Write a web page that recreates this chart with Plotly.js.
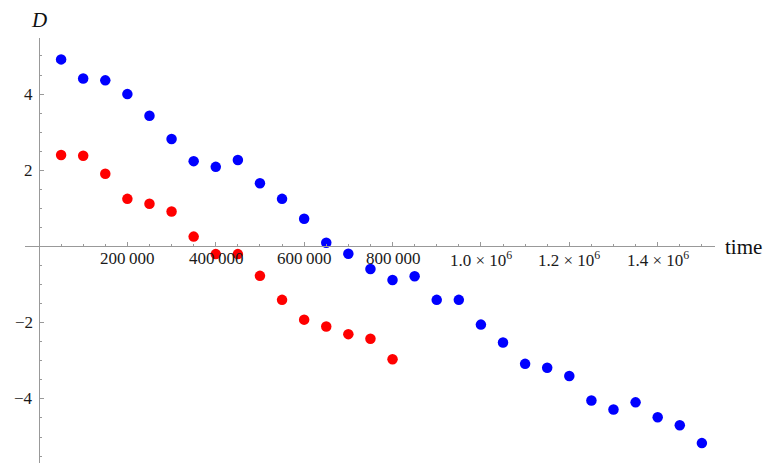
<!DOCTYPE html>
<html>
<head>
<meta charset="utf-8">
<script src="https://cdn.plot.ly/plotly-3.0.1.min.js"></script>
<style>html,body{margin:0;padding:0;background:#fff;}#chart{width:773px;height:466px;}</style>
</head>
<body>
<div id="chart"></div>
<script>
var blueTime = [50000,100000,150000,200000,250000,300000,350000,400000,450000,500000,550000,600000,650000,700000,750000,800000,850000,900000,950000,1000000,1050000,1100000,1150000,1200000,1250000,1300000,1350000,1400000,1450000,1500000];
var blueD = [4.91,4.41,4.36,4.00,3.43,2.82,2.24,2.09,2.27,1.66,1.25,0.73,0.10,-0.19,-0.59,-0.88,-0.78,-1.40,-1.40,-2.05,-2.52,-3.08,-3.18,-3.40,-4.04,-4.28,-4.09,-4.48,-4.69,-5.16];
var redTime = [50000,100000,150000,200000,250000,300000,350000,400000,450000,500000,550000,600000,650000,700000,750000,800000];
var redD = [2.40,2.38,1.91,1.25,1.12,0.92,0.26,-0.20,-0.20,-0.77,-1.40,-1.92,-2.10,-2.30,-2.42,-2.96];

var xTickVals = [200000,400000,600000,800000,1000000,1200000,1400000];
var xTickText = ["200\u2009000","400\u2009000","600\u2009000","800\u2009000","1.0 \u00d7 10<sup>6</sup>","1.2 \u00d7 10<sup>6</sup>","1.4 \u00d7 10<sup>6</sup>"];
var yTickVals = [-4,-2,2,4];
var yTickText = ["\u22124","\u22122","2","4"];

var xRange = [-31680, 1529700];
var yRange = [-5.682, 5.472];

var serifFam = "Liberation Serif";
var xPos = (0 - yRange[0]) / (yRange[1] - yRange[0]);
var yPos = (0 - xRange[0]) / (xRange[1] - xRange[0]);

var traces = [
  {x: blueTime, y: blueD, type: 'scatter', mode: 'markers', marker: {color: '#0000ff', size: 10.5}, hoverinfo: 'none'},
  {x: redTime, y: redD, type: 'scatter', mode: 'markers', marker: {color: '#ff0000', size: 10.5}, hoverinfo: 'none'},
  {x: [], y: [], xaxis: 'x2', yaxis: 'y2', type: 'scatter', mode: 'markers', hoverinfo: 'none'}
];

var annotations = [
  {text: 'time', xref: 'paper', yref: 'y', x: 1, y: 0, xanchor: 'left', yanchor: 'middle', xshift: 8, showarrow: false, font: {family: serifFam, size: 21, color: '#111'}},
  {text: '<i>D</i>', xref: 'x', yref: 'paper', x: 0, y: 1, xanchor: 'center', yanchor: 'bottom', yshift: 4, showarrow: false, font: {family: serifFam, size: 21, color: '#111'}}
];
xTickVals.forEach(function (v, i) {
  annotations.push({text: xTickText[i], xref: 'x', yref: 'y', x: v, y: 0, xanchor: 'center', yanchor: 'middle', yshift: -12, showarrow: false, font: {family: serifFam, size: 17, color: '#1a1a1a'}});
});
yTickVals.forEach(function (v, i) {
  annotations.push({text: yTickText[i], xref: 'x', yref: 'y', x: 0, y: v, xanchor: 'right', yanchor: 'middle', xshift: -4, showarrow: false, font: {family: serifFam, size: 17, color: '#1a1a1a'}});
});

var layout = {
  width: 773, height: 466,
  margin: {l: 25, r: 58, t: 38, b: 3},
  paper_bgcolor: '#ffffff', plot_bgcolor: '#ffffff',
  showlegend: false,
  xaxis: {
    range: xRange, anchor: 'free', position: xPos,
    showgrid: false, zeroline: false,
    showline: true, linecolor: '#999', linewidth: 1,
    tickmode: 'array', tickvals: xTickVals, showticklabels: false,
    ticks: 'inside', ticklen: 4.5, tickcolor: '#999',
    automargin: false, fixedrange: true
  },
  yaxis: {
    range: yRange, anchor: 'free', position: yPos,
    showgrid: false, zeroline: false,
    showline: true, linecolor: '#999', linewidth: 1,
    tickmode: 'array', tickvals: yTickVals, showticklabels: false,
    ticks: 'inside', ticklen: 4.5, tickcolor: '#999',
    automargin: false, fixedrange: true
  },
  xaxis2: {
    range: xRange, overlaying: 'x', anchor: 'free', position: xPos,
    showgrid: false, zeroline: false, showline: false, showticklabels: false,
    tickmode: 'linear', tick0: 0, dtick: 50000, ticks: 'inside', ticklen: 2.5, tickcolor: '#999',
    automargin: false, fixedrange: true
  },
  yaxis2: {
    range: yRange, overlaying: 'y', anchor: 'free', position: yPos,
    showgrid: false, zeroline: false, showline: false, showticklabels: false,
    tickmode: 'linear', tick0: 0, dtick: 0.5, ticks: 'inside', ticklen: 2.5, tickcolor: '#999',
    automargin: false, fixedrange: true
  },
  annotations: annotations
};

Plotly.newPlot('chart', traces, layout, {displayModeBar: false, staticPlot: true});
</script>
</body>
</html>
